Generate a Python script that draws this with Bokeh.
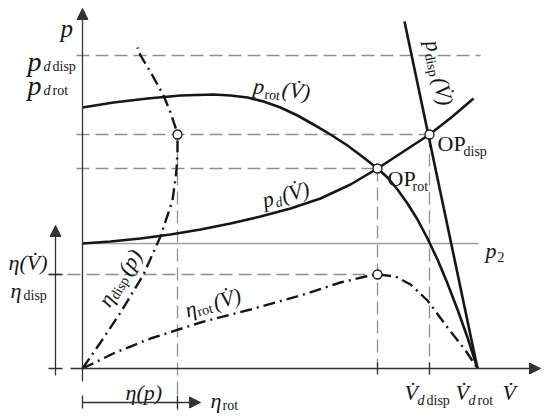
import math
from bokeh.plotting import figure
from bokeh.models import Range1d, Arrow, NormalHead
from bokeh.core.properties import value
from bokeh.embed import file_html
from bokeh.resources import INLINE

# ---- schematic data (flow V, pressure p, efficiency eta; arbitrary units) ----
rot_V = [0, 31, 65, 98, 131, 148, 165, 181, 198, 215, 231, 248, 265, 281, 295,
         305, 315, 325, 335, 345, 355, 365, 375, 385, 395]
rot_p = [261, 266, 270, 273, 274, 273, 271, 267, 261, 253, 244, 234, 223, 211, 200,
         191, 179, 165, 149, 130, 109, 85, 59, 31, 0]

pd_V = [0, 28, 58, 88, 118, 148, 178, 208, 238, 268, 295, 321, 347, 370, 391]
pd_p = [125, 127, 130, 134, 139, 145, 152, 160, 170, 184, 200, 217, 234, 252, 270]

disp_V = [322, 395]
disp_p = [347, 0]

eta_rot_V = [0, 33, 68, 118, 168, 218, 258, 283, 295, 313, 328, 345, 365, 383, 395]
eta_rot_e = [0, 16, 30, 46, 59, 73, 86, 92, 94, 92, 84, 68, 41, 18, 0]

eta_disp_e = [0, 18, 38, 61, 78, 90, 94, 95, 95, 93, 88, 81, 70, 58, 55]
eta_disp_p = [0, 26, 56, 94, 132, 168, 198, 218, 234, 241, 256, 273, 293, 313, 321]

op_x = [95, 295, 347, 295]
op_y = [234, 200, 234, 94]

p_d_disp = 313
p_d_rot = 234
p_op_rot = 200
eta_disp_max = 94
p_2 = 125
V_op_rot = 295
V_op_disp = 347
eta_p_max = 95

FONT = "Liberation Serif"
INK = "#161616"
GRAY = "#8f8f8f"
AX = "#333333"

p = figure(width=550, height=419, x_range=Range1d(-82, 468), y_range=Range1d(-51, 368),
           output_backend="svg", toolbar_location=None, min_border=0,
           x_axis_location=None, y_axis_location=None)
p.grid.visible = False
p.outline_line_color = None
p.background_fill_color = "white"


def P(X, Y):
    return X - 82, 368 - Y


# ---- guide lines ----
dash = "13 6"
p.line([-6, 398], [p_d_disp] * 2, line_color=GRAY, line_width=1.3, line_dash=dash)
p.line([-6, V_op_disp], [p_d_rot] * 2, line_color=GRAY, line_width=1.3, line_dash=dash)
p.line([-6, V_op_rot], [p_op_rot] * 2, line_color=GRAY, line_width=1.3, line_dash=dash)
p.line([-34, V_op_rot], [eta_disp_max] * 2, line_color=GRAY, line_width=1.3, line_dash=dash)
p.line([eta_p_max] * 2, [p_d_rot, -42], line_color=GRAY, line_width=1.3, line_dash=dash)
p.line([V_op_rot] * 2, [p_op_rot, -6], line_color=GRAY, line_width=1.3, line_dash=dash)
p.line([V_op_disp] * 2, [p_d_rot, -6], line_color=GRAY, line_width=1.3, line_dash=dash)
p.line([0, 396], [p_2] * 2, line_color="#a0a0a0", line_width=1.6)

# ---- axes ----
def arrow(x0, y0, x1, y1):
    p.add_layout(Arrow(end=NormalHead(size=11, fill_color=AX, line_color=AX),
                       x_start=x0, y_start=y0, x_end=x1, y_end=y1,
                       line_color=AX, line_width=1.3))

arrow(0, -13, 0, 360)
arrow(-12, 0, 458, 0)
arrow(-27, -7, -27, 143)
arrow(0, -34, 118, -34)
for yy in [0, eta_disp_max]:
    p.line([-34, -20], [yy, yy], line_color=AX, line_width=1.3)
for xx in [V_op_rot, V_op_disp]:
    p.line([xx, xx], [6, -6], line_color=AX, line_width=1.3)
for xx in [0, eta_p_max]:
    p.line([xx, xx], [-27, -40], line_color=AX, line_width=1.3)

# ---- curves ----
p.line(rot_V, rot_p, line_color=INK, line_width=2.6, line_join="round")
p.line(pd_V, pd_p, line_color=INK, line_width=2.6, line_join="round")
p.line(disp_V, disp_p, line_color=INK, line_width=2.6)
dd = "12 5 2 5"
p.line(eta_rot_V, eta_rot_e, line_color=INK, line_width=2.4, line_dash=dd)
p.line(eta_disp_e, eta_disp_p, line_color=INK, line_width=2.4, line_dash=dd)
p.scatter(op_x, op_y, marker="circle", size=9, fill_color="white", line_color=INK, line_width=1.3)


# ---- labels ----
def label(X, Y, runs, angle=0.0):
    x0, y0 = P(X, Y)
    a = math.radians(angle)
    for s, size, italic, dx, dy in runs:
        x = x0 + dx * math.cos(a) - dy * math.sin(a)
        y = y0 + dx * math.sin(a) + dy * math.cos(a)
        p.text(x=[x], y=[y], text=[s], text_font=value(FONT), text_font_size=f"{size}px",
               text_font_style="italic" if italic else "normal", angle=angle, angle_units="deg",
               text_baseline="alphabetic", text_align="left", text_color=INK)


V = "V\u0307"
label(60, 28, [("p", 25, True, 0, 0)])
label(27, 61, [("p", 28, True, 0, 0), ("d", 14, True, 16, -5), ("disp", 14, False, 25, -5)])
label(27, 85, [("p", 28, True, 0, 0), ("d", 14, True, 16, -5), ("rot", 14, False, 25, -5)])
label(8, 262, [("η(" + V + ")", 22, True, 0, 0)])
label(10, 290, [("η", 22, True, 0, 0), ("disp", 14, False, 13, -5)])

label(253, 85, [("p", 22, True, 0, 0), ("rot", 14, False, 12, -7), ("(" + V + ")", 22, True, 29, 0)], angle=-7)
label(262, 200, [("p", 22, True, 0, 0), ("d", 14, True, 12, -6), ("(" + V + ")", 22, True, 20, 0)], angle=15)
label(432, 40, [("p", 22, True, 0, 0), ("disp", 14, False, 12, -6), ("(" + V + ")", 22, True, 38, 0)], angle=-78)
label(437, 143, [("OP", 22, False, 0, 0), ("disp", 14, False, 26, -8)])
label(387, 178, [("OP", 22, False, 0, 0), ("rot", 14, False, 25, -8)])
label(103, 304, [("η", 22, True, 0, 0), ("disp", 14, False, 11, -5), ("(p)", 22, True, 37, 0)], angle=58)
label(185, 310, [("η", 22, True, 0, 0), ("rot", 14, False, 11, -5), ("(" + V + ")", 22, True, 29, 0)], angle=16)
label(485, 250, [("p", 22, True, 0, 0), ("2", 14, False, 12, -6)])
label(125, 392, [("η(p)", 22, True, 0, 0)])
label(210, 400, [("η", 22, True, 0, 0), ("rot", 14, False, 12, -5)])
label(404, 392, [(V, 22, True, 0, 0), ("d", 14, True, 13, -8), ("disp", 14, False, 22, -8)])
label(455, 392, [(V, 22, True, 0, 0), ("d", 14, True, 13, -8), ("rot", 14, False, 22, -8)])
label(502, 392, [(V, 22, True, 0, 0)])

open("out.html", "w").write(file_html(p, INLINE))
